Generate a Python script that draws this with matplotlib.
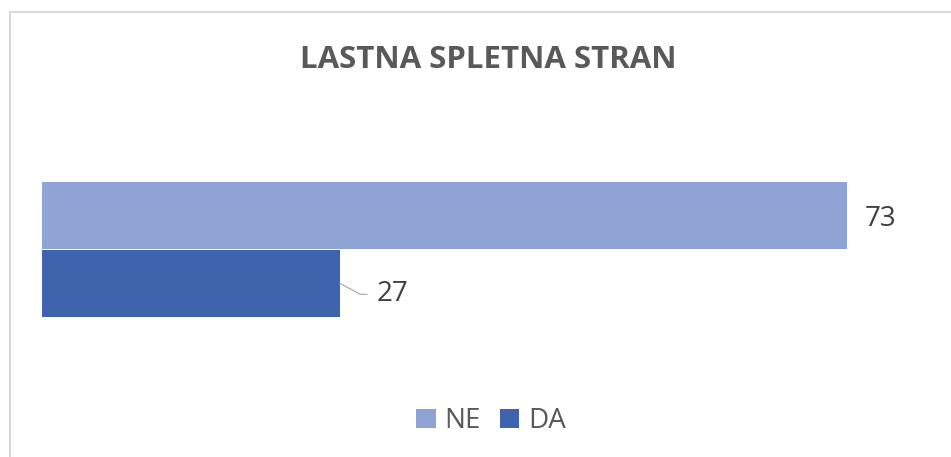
import matplotlib
matplotlib.use("Agg")
import matplotlib.pyplot as plt
from matplotlib.lines import Line2D

# dados do grafico
naslov = "LASTNA SPLETNA STRAN"
kategorije = ["NE", "DA"]
vrednosti = [73, 27]
barve = ["#8FA4D4", "#3D64AD"]

plt.rcParams['font.family'] = ['Open Sans', 'DejaVu Sans']

W, H = 951, 457
fig = plt.figure(figsize=(W / 100, H / 100), dpi=100)
fig.patch.set_facecolor("white")

# okvir grafikona (vidna sta samo zgornji in levi rob)
fig.add_artist(Line2D([10 / W, 10 / W], [0, 1 - 12 / H], color="#D9D9D9", lw=1.5))
fig.add_artist(Line2D([10 / W, 1], [1 - 12 / H, 1 - 12 / H], color="#D9D9D9", lw=1.5))

# os za stolpce
ax = fig.add_axes([42 / W, 1 - 317 / H, 880 / W, 135 / H])
pozicije = [1, 0]
stolpci = []
for kat, v, b, p in zip(kategorije, vrednosti, barve, pozicije):
    s = ax.barh(p, v, height=1.0, color=b, label=kat)
    stolpci.append(s)
ax.set_xlim(0, 880 / (805 / 73))
ax.set_ylim(-0.5, 1.5)
ax.axis("off")

# oznake vrednosti
ax.annotate(str(vrednosti[0]), xy=(vrednosti[0], pozicije[0]), xytext=(18, -3),
            textcoords="offset pixels", ha="left", va="center",
            fontsize=20, color="#404040")
ax.annotate(str(vrednosti[1]), xy=(vrednosti[1], pozicije[1]), xytext=(37, -11),
            textcoords="offset pixels", ha="left", va="center",
            fontsize=20, color="#404040",
            arrowprops=dict(arrowstyle="-", color="#A6A6A6", lw=0.8,
                            connectionstyle="angle,angleA=0,angleB=-28,rad=0",
                            shrinkA=5, shrinkB=0))

fig.text(488 / W, 1 - 60 / H, naslov, ha="center", va="center",
         fontsize=22.5, fontweight="bold", color="#595959")

fig.legend(handles=[s[0] for s in stolpci], labels=kategorije, loc="center",
           bbox_to_anchor=(491 / W, 1 - 421 / H), ncol=2, frameon=False,
           fontsize=20, labelcolor="#595959", handlelength=0.7, handleheight=0.7,
           handletextpad=0.3, columnspacing=0.7)

fig.savefig("out.png", dpi=100)
